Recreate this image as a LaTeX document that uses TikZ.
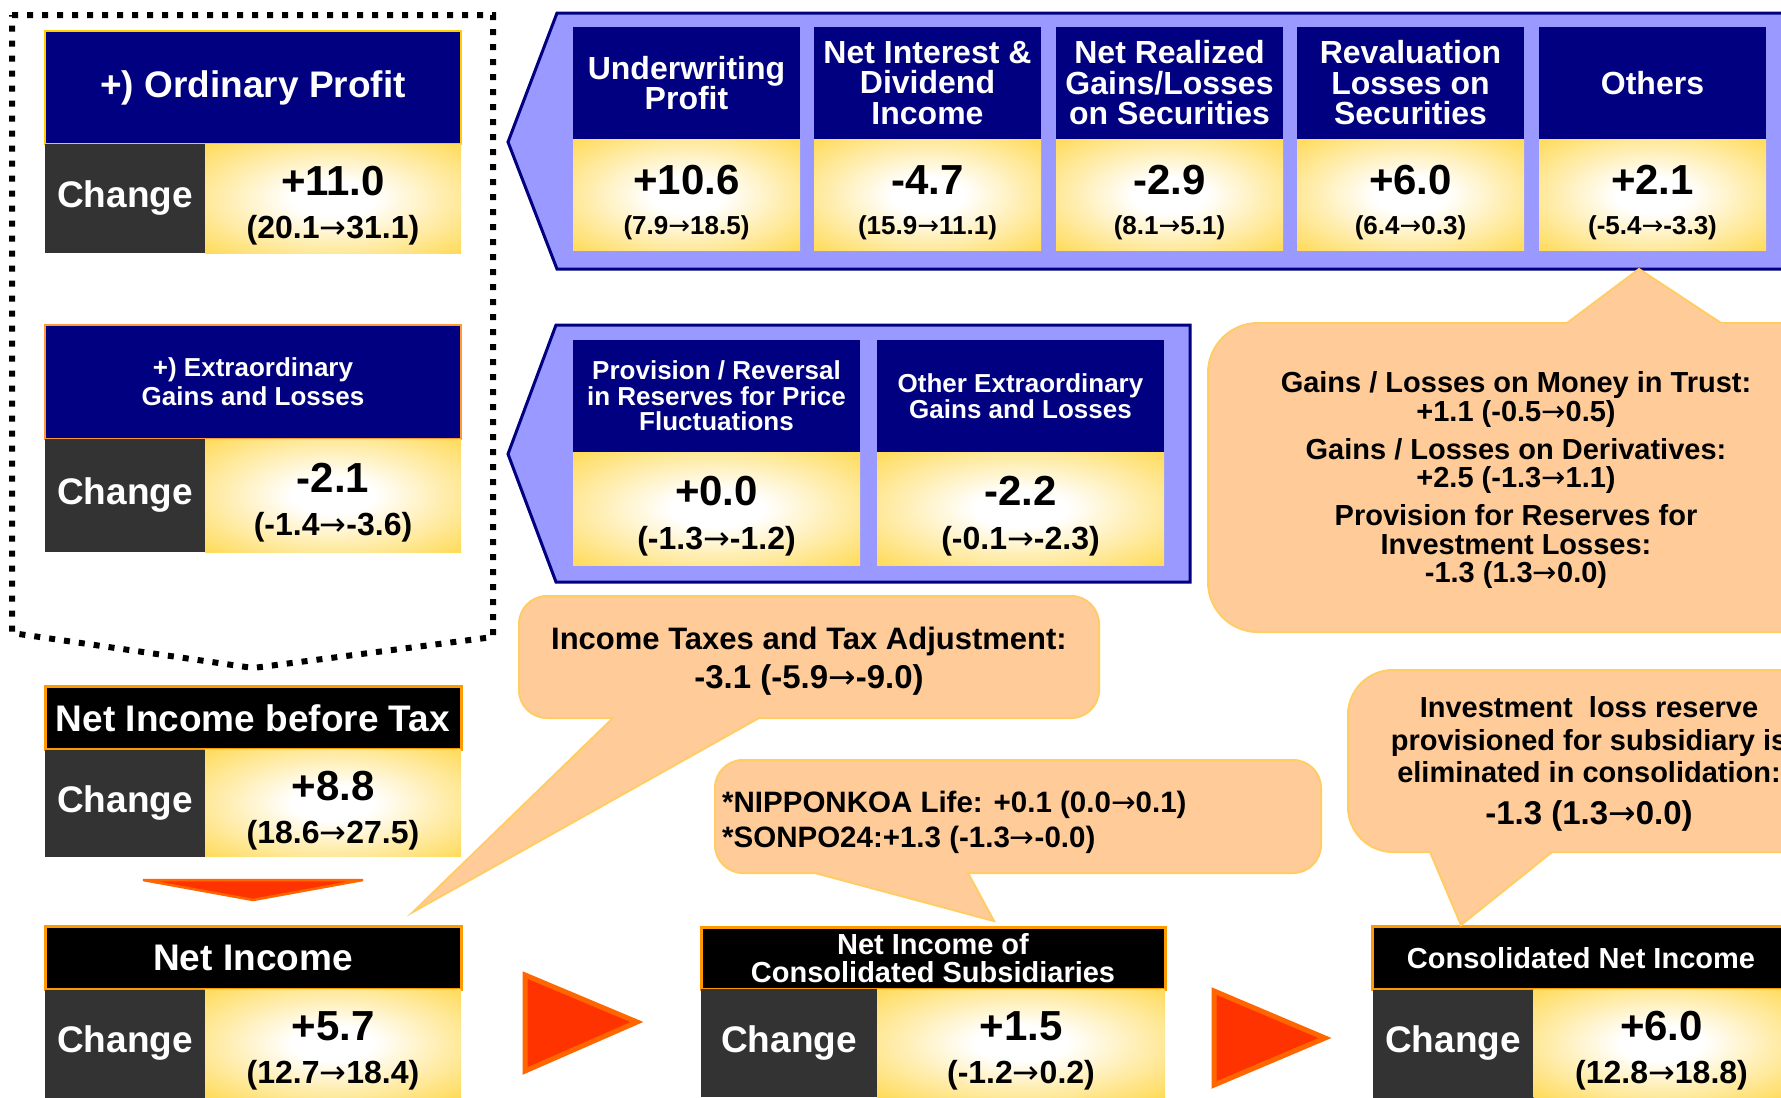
\documentclass[tikz,border=0pt]{standalone}
\usepackage{fontspec}
\setmainfont{Liberation Sans}
\newfontfamily\arrowfont{DejaVu Sans}
\usetikzlibrary{positioning}
\definecolor{hdnavy}{HTML}{000080}
\definecolor{panelblue}{HTML}{9999FF}
\definecolor{cellgold}{HTML}{FFCC00}
\definecolor{goldsoft}{HTML}{FFDF6E}
\definecolor{celldark}{HTML}{333333}
\definecolor{notefill}{HTML}{FFCC99}
\definecolor{noteline}{HTML}{FFCC66}
\definecolor{arrowred}{HTML}{FF3300}
\definecolor{arrowline}{HTML}{FF6600}
\definecolor{hdorange}{HTML}{FF9900}
\definecolor{extorange}{HTML}{FF9933}
\pgfdeclareradialshading{goldglow}{\pgfpoint{0bp}{0bp}}{color(0bp)=(white); color(8bp)=(white); color(32bp)=(goldsoft); color(48bp)=(cellgold); color(50bp)=(cellgold)}
\newcommand{\fsz}[2]{\fontsize{#1pt}{#2pt}\selectfont}
\newcommand{\tosign}{{\arrowfont\mdseries →}}
\newcommand{\bignum}[1]{{\fsz{42}{43}#1}}

\begin{document}
\begin{tikzpicture}[x=1pt, y=-1pt,
  hdcell/.style={fill=hdnavy, text=white, align=center, inner sep=0pt, outer sep=0pt},
  topcell/.style={hdcell, minimum width=227pt, minimum height=113pt, font=\bfseries\fsz{32}{30.5}},
  midcell/.style={hdcell, minimum width=287pt, minimum height=112pt, font=\bfseries\fsz{26}{25.5}},
  blackhd/.style={fill=black, draw=hdorange, line width=3pt, text=white, align=center, inner sep=0pt, outer sep=0pt, minimum height=63pt},
  chgcell/.style={fill=celldark, text=white, inner sep=0pt, outer sep=0pt, font=\bfseries\fsz{37}{40}},
  valcell/.style={shade, shading=goldglow, align=center, inner sep=0pt, outer sep=0pt, text height=80pt, text depth=0pt, font=\bfseries\fsz{32}{43}},
  topval/.style={valcell, minimum width=227pt, minimum height=111pt, text height=79pt, font=\bfseries\fsz{26}{40}},
  midval/.style={valcell, minimum width=287pt, minimum height=113pt, text height=82pt, font=\bfseries\fsz{32}{44}},
  panel/.style={fill=panelblue, draw=hdnavy, line width=3pt},
  callout/.style={fill=notefill, draw=noteline, line width=2pt},
  notetext/.style={align=center, inner sep=0pt, font=\bfseries\fsz{29}{28.5}},
  bigarrow/.style={fill=arrowred, draw=arrowline, line width=5pt},
  dotframe/.style={draw=black, line width=6pt, dash pattern=on 6pt off 9pt}]

\useasboundingbox (0,0) rectangle (1781,1098);
\fill[white] (0,0) rectangle (1781,1098);

% dotted frame round ordinary + extraordinary
\draw[dotframe] (12,15) -- (493,15) -- (493,637) -- (253,668) -- (12,633) -- cycle;

% blue panels
\filldraw[panel] (508,142) -- (557,13) -- (1800,13) -- (1800,269) -- (557,269) -- cycle;
\filldraw[panel] (508,454) -- (556,325) -- (1190,325) -- (1190,582) -- (556,582) -- cycle;

% left column
\node[hdcell, draw=cellgold, line width=2pt, minimum width=416pt, minimum height=113pt, font=\bfseries\fsz{37}{40}] (ordhd) at (253,87.5) {+) Ordinary Profit};
\node[chgcell, minimum width=160pt, minimum height=109pt, below right=0pt and 0pt of ordhd.south west] (ordchg) {Change};
\node[valcell, minimum width=256pt, minimum height=109pt, right=0pt of ordchg] (ordval) {\bignum{+11.0}\\(20.1\tosign31.1)};

\node[hdcell, draw=extorange, line width=2pt, minimum width=416pt, minimum height=114pt, font=\bfseries\fsz{26}{29}] (exthd) at (253,382) {+) Extraordinary\\Gains and Losses};
\node[chgcell, minimum width=160pt, minimum height=113pt, below right=0pt and 0pt of exthd.south west] (extchg) {Change};
\node[valcell, minimum width=256pt, minimum height=113pt, right=0pt of extchg] (extval) {\bignum{-2.1}\\(-1.4\tosign-3.6)};

\node[blackhd, minimum width=416pt, font=\bfseries\fsz{37}{40}] (ptxhd) at (253,718) {Net Income before Tax};
\node[chgcell, minimum width=160pt, minimum height=107pt, below right=0pt and 0pt of ptxhd.south west] (ptxchg) {Change};
\node[valcell, minimum width=256pt, minimum height=107pt, right=0pt of ptxchg] (ptxval) {\bignum{+8.8}\\(18.6\tosign27.5)};

\node[blackhd, minimum width=416pt, font=\bfseries\fsz{37}{40}] (nethd) at (253,958) {Net Income};
\node[chgcell, minimum width=160pt, minimum height=108pt, below right=0pt and 0pt of nethd.south west] (netchg) {Change};
\node[valcell, minimum width=256pt, minimum height=108pt, right=0pt of netchg] (netval) {\bignum{+5.7}\\(12.7\tosign18.4)};

% subsidiaries and consolidated
\node[blackhd, minimum width=464pt, minimum height=62pt, font=\bfseries\fsz{29}{28}] (subhd) at (933,958) {Net Income of\\Consolidated Subsidiaries};
\node[chgcell, minimum width=176pt, minimum height=108pt, below right=0pt and 0pt of subhd.south west] (subchg) {Change};
\node[valcell, minimum width=288pt, minimum height=108pt, right=0pt of subchg] (subval) {\bignum{+1.5}\\(-1.2\tosign0.2)};

\node[blackhd, minimum width=417pt, font=\bfseries\fsz{29}{32}] (conhd) at (1581,958) {Consolidated Net Income};
\node[chgcell, minimum width=161pt, minimum height=108pt, below right=0pt and 0pt of conhd.south west] (conchg) {Change};
\node[valcell, minimum width=256pt, minimum height=108pt, right=0pt of conchg] (conval) {\bignum{+6.0}\\(12.8\tosign18.8)};

% ordinary profit breakdown
\node[topcell] (uwhd) at (686.5,83) {Underwriting\\Profit};
\node[topcell, right=14pt of uwhd] (nihd) {Net Interest \&\\Dividend\\Income};
\node[topcell, right=15pt of nihd] (nrhd) {Net Realized\\Gains/Losses\\on Securities};
\node[topcell, right=14pt of nrhd] (rvhd) {Revaluation\\Losses on\\Securities};
\node[topcell, right=15pt of rvhd] (othd) {Others};
\node[topval, below=0pt of uwhd] (uwval) {\bignum{+10.6}\\(7.9\tosign18.5)};
\node[topval, below=0pt of nihd] (nival) {\bignum{-4.7}\\(15.9\tosign11.1)};
\node[topval, below=0pt of nrhd] (nrval) {\bignum{-2.9}\\(8.1\tosign5.1)};
\node[topval, below=0pt of rvhd] (rvval) {\bignum{+6.0}\\(6.4\tosign0.3)};
\node[topval, below=0pt of othd] (otval) {\bignum{+2.1}\\(-5.4\tosign-3.3)};

% extraordinary breakdown
\node[midcell] (pvhd) at (716.5,396) {Provision / Reversal\\in Reserves for Price\\Fluctuations};
\node[midcell, right=17pt of pvhd] (oehd) {Other Extraordinary\\Gains and Losses};
\node[midval, below=0pt of pvhd] (pvval) {\bignum{+0.0}\\(-1.3\tosign-1.2)};
\node[midval, below=0pt of oehd] (oeval) {\bignum{-2.2}\\(-0.1\tosign-2.3)};

% callouts
\draw[callout] (1639,269) -- (1721,323) [rounded corners=50pt] -- (1840,323) -- (1840,632) -- (1208,632) -- (1208,323) [sharp corners] -- (1567,323) -- cycle;
\node[notetext] (trustnote) at (1516,480) {Gains / Losses on Money in Trust:\\+1.1 (-0.5\tosign0.5)\\[9.5pt]Gains / Losses on Derivatives:\\+2.5 (-1.3\tosign1.1)\\[9.5pt]Provision for Reserves for\\Investment Losses:\\-1.3 (1.3\tosign0.0)};

\draw[callout] (413,912) -- (759,718) [rounded corners=28pt] -- (1099,718) -- (1099,596) -- (519,596) -- (519,718) [sharp corners] -- (613,718) -- cycle;
\node[notetext, font=\bfseries\fsz{31}{39}] (taxnote) at (809,661) {Income Taxes and Tax Adjustment:\\{\fsz{33}{39}-3.1 (-5.9\tosign-9.0)}};

\draw[callout] (994,921) -- (968,873) [rounded corners=28pt] -- (1321,873) -- (1321,760) -- (715,760) -- (715,873) [sharp corners] -- (815,873) -- cycle;
\node[notetext, align=left, anchor=west, font=\bfseries\fsz{29.5}{35}] (lifenote) at (722,822) {*NIPPONKOA Life: +0.1 (0.0\tosign0.1)\\{}*SONPO24:+1.3 (-1.3\tosign-0.0)};

\draw[callout] (1461,925) -- (1552,852) [rounded corners=45pt] -- (1840,852) -- (1840,670) -- (1348,670) -- (1348,852) [sharp corners] -- (1430,852) -- cycle;
\node[notetext, font=\bfseries\fsz{29}{32.5}] (reservenote) at (1589,764) {Investment\ \ loss reserve\\provisioned for subsidiary is\\eliminated in consolidation:\\[9pt]{\fsz{33}{32.5}-1.3 (1.3\tosign0.0)}};

% arrows
\filldraw[bigarrow, line width=2.5pt] (143,880) -- (363,880) -- (253,900) -- cycle;
\filldraw[bigarrow] (525,975) -- (637,1022) -- (525,1071) -- cycle;
\filldraw[bigarrow] (1214,991) -- (1325,1038) -- (1214,1085) -- cycle;
\end{tikzpicture}
\end{document}
